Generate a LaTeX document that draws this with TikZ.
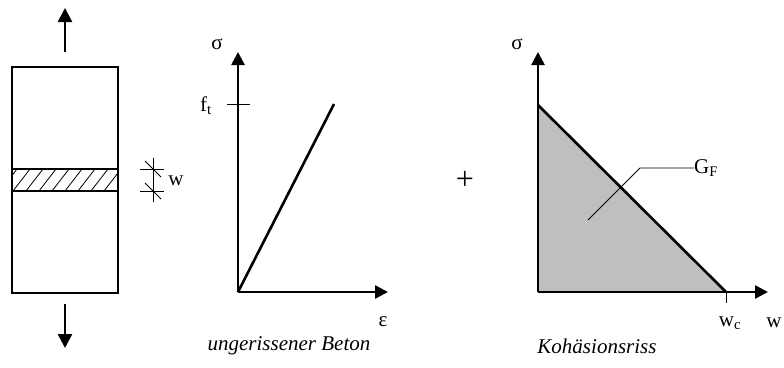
\documentclass[tikz,border=0pt]{standalone}
\usepackage{fontspec}
\setmainfont{Liberation Serif}
\usetikzlibrary{arrows.meta,positioning,calc}

\begin{document}
\begin{tikzpicture}[x=1pt, y=-1pt,
  axis/.style={line width=2.6pt, -{Triangle[length=13pt,width=13pt]}},
  force/.style={line width=2.6pt, -{Triangle[length=14pt,width=14pt]}},
  edge/.style={line width=2pt},
  fine/.style={line width=0.8pt},
  lbl/.style={font=\fontsize{21}{24}\selectfont, inner sep=0pt},
  caption/.style={font=\fontsize{21}{24}\selectfont\itshape, inner sep=0pt},
]
  \useasboundingbox (0,0) rectangle (784,367);

  % specimen with crack band
  \coordinate (top) at (65,52);
  \coordinate (topend) at (65,8);
  \coordinate (bot) at (65,304);
  \coordinate (botend) at (65,348);
  \begin{scope}
    \clip (12,169) rectangle (118,191);
    \foreach \x in {0,13,...,130}
      \draw[fine] (\x,191) -- ++(17,-22);
  \end{scope}
  \draw[edge] (12,67) rectangle (118,293);
  \draw[edge] (12,169) rectangle (118,191);
  \draw[force] (top) -- (topend);
  \draw[force] (bot) -- (botend);

  % crack opening w
  \draw[fine] (153,158) -- (153,202);
  \draw[fine] (140,169) -- (164,169);
  \draw[fine] (140,191) -- (164,191);
  \draw[fine] (145,161) -- (161,177);
  \draw[fine] (145,183) -- (161,199);
  \node[lbl] (wlabel) at (176,181) {w};

  % sigma-epsilon
  \coordinate (o1) at (238,292);
  \coordinate (ft) at (238,104);
  \coordinate (peak) at (334,104);
  \draw[axis] (o1) -- (238,52);
  \draw[axis] (o1) -- (388,292);
  \draw[fine] (227,104) -- (250,104);
  \draw[line width=2.6pt] (o1) -- (peak);
  \node[lbl] (sig1) at (217,44) {σ};
  \node[lbl] (ftlabel) at (206,106) {f\textsubscript{t}};
  \node[lbl] (eps) at (383,322) {ε};
  \node[caption] (uncracked) at (289,346) {ungerissener Beton};

  \node[font=\fontsize{32}{34}\selectfont, inner sep=0pt] (plus) at (465,180) {+};

  % sigma-w
  \coordinate (o2) at (538,292);
  \coordinate (s0) at (538,105);
  \coordinate (wc) at (726,292);
  \fill[black!25] (o2) -- (s0) -- (wc) -- cycle;
  \draw[line width=2.6pt] (s0) -- (wc);
  \draw[axis] (o2) -- (538,52);
  \draw[axis] (o2) -- (768,292);
  \draw[fine] (wc) -- (726,303);
  \node[lbl] (sig2) at (517,44) {σ};
  \node[lbl] (wclabel) at (730,323) {w\textsubscript{c}};
  \node[lbl] (wlabel2) at (774,323) {w};
  \node[lbl, anchor=west] (gf) at (694,168) {G\textsubscript{F}};
  \draw[fine] (588,220) -- (640,168) -- (gf.west);
  \node[caption] (cohesive) at (597,346) {Kohäsionsriss};
\end{tikzpicture}
\end{document}
